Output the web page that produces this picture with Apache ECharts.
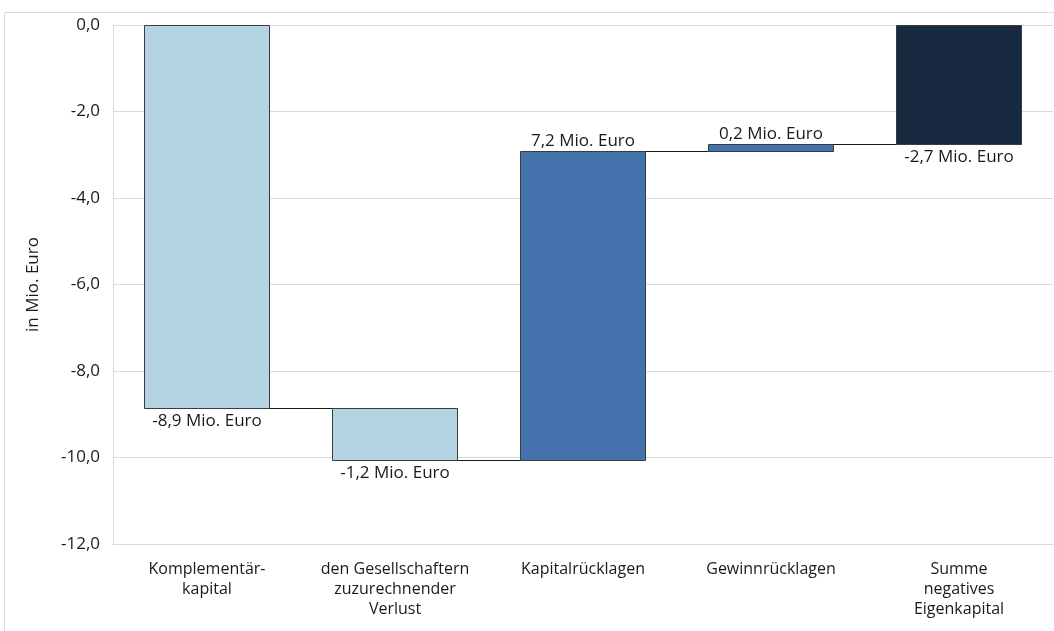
<!DOCTYPE html>
<html>
<head>
<meta charset="utf-8">
<script src="https://cdn.jsdelivr.net/npm/echarts@6/dist/echarts.min.js"></script>
<style>
  html, body { margin: 0; padding: 0; background: #fff; }
  #chart { width: 1054px; height: 631px; }
</style>
</head>
<body>
<div id="chart"></div>
<script>
// waterfall: each bar runs from barFrom to barTo (in Mio. Euro)
const categories = [
  'Komplementär-\nkapital',
  'den Gesellschaftern\nzuzurechnender\nVerlust',
  'Kapitalrücklagen',
  'Gewinnrücklagen',
  'Summe\nnegatives\nEigenkapital'
];
const barFrom = [0, -8.86, -10.05, -2.91, 0];
const barTo = [-8.86, -10.05, -2.91, -2.74, -2.74];
// printed change labels
const changes = [-8.9, -1.2, 7.2, 0.2, -2.7];
const barColors = ['#B4D4E3', '#B4D4E3', '#4372AC', '#4372AC', '#17293F'];

const fontFamily = '"Open Sans", Lato, sans-serif';
const fmt = v => v.toFixed(1).replace('.', ',');

const chart = echarts.init(document.getElementById('chart'));

const seriesData = categories.map((c, i) => [i, barFrom[i], barTo[i], changes[i]]);

function renderBar(params, api) {
  const i = api.value(0);
  const from = api.value(1);
  const to = api.value(2);
  const change = api.value(3);
  const p1 = api.coord([i, from]);
  const p2 = api.coord([i, to]);
  const band = api.size([1, 0])[0];
  const w = band * 0.665;
  const x = Math.round(p1[0] - w / 2) + 0.5;
  const yTop = Math.round(Math.min(p1[1], p2[1])) + 0.5;
  const yBot = Math.round(Math.max(p1[1], p2[1])) + 0.5;
  const children = [{
    type: 'rect',
    shape: { x: x, y: yTop, width: Math.round(w), height: yBot - yTop },
    style: { fill: barColors[i], stroke: '#3b3b3b', lineWidth: 1 }
  }];
  if (i < categories.length - 1) {
    const pn = api.coord([i + 1, to]);
    const yl = Math.round(p2[1]) + 0.5;
    children.push({
      type: 'line',
      shape: { x1: x + Math.round(w), y1: yl, x2: Math.round(pn[0] - w / 2) + 0.5, y2: yl },
      style: { stroke: '#1a1a1a', lineWidth: 1 }
    });
  }
  children.push({
    type: 'text',
    style: {
      text: fmt(change) + ' Mio. Euro',
      x: p1[0],
      y: change > 0 ? yTop - 2 : yBot + 4,
      align: 'center',
      verticalAlign: change > 0 ? 'bottom' : 'top',
      fill: '#1a1a1a',
      font: '17px ' + fontFamily
    }
  });
  return { type: 'group', children: children };
}

const option = {
  animation: false,
  graphic: [{
    type: 'rect',
    shape: { x: 4.5, y: 12.5, width: 1100, height: 700 },
    style: { fill: 'none', stroke: '#D9D9D9', lineWidth: 1 },
    silent: true
  }],
  grid: { left: 113, right: 1, top: 25, bottom: 87, containLabel: false },
  xAxis: {
    type: 'category',
    data: categories,
    axisLine: { onZero: false, lineStyle: { color: '#D9D9D9' } },
    axisTick: { show: false },
    axisLabel: {
      color: '#1a1a1a',
      fontFamily: fontFamily,
      fontSize: 16,
      lineHeight: 20,
      margin: 15,
      interval: 0
    }
  },
  yAxis: {
    type: 'value',
    min: -12,
    max: 0,
    interval: 2,
    name: 'in Mio. Euro',
    nameLocation: 'middle',
    nameGap: 71,
    nameTextStyle: { color: '#1a1a1a', fontFamily: fontFamily, fontSize: 17 },
    axisLine: { show: true, lineStyle: { color: '#D9D9D9' } },
    axisTick: { show: false },
    axisLabel: {
      color: '#1a1a1a',
      fontFamily: fontFamily,
      fontSize: 17,
      margin: 13,
      formatter: v => fmt(v)
    },
    splitLine: { lineStyle: { color: '#D9D9D9' } }
  },
  series: [{
    type: 'custom',
    renderItem: renderBar,
    encode: { x: 0, y: [1, 2] },
    data: seriesData
  }]
};

chart.setOption(option);
</script>
</body>
</html>
